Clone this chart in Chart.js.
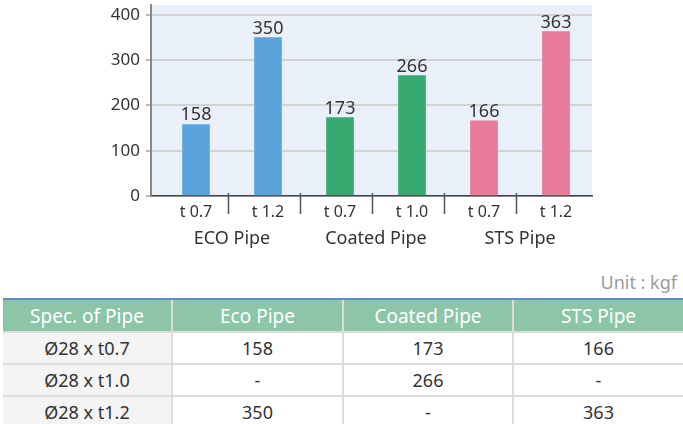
<!DOCTYPE html>
<html>
<head>
<meta charset="utf-8">
<script src="https://cdn.jsdelivr.net/npm/chart.js@4.4.1/dist/chart.umd.min.js"></script>
<style>
    body { margin: 0; background: #fff; font-family: "Noto Sans", sans-serif; }
    #wrap { position: relative; width: 683px; height: 424px; overflow: hidden; }
    #chartBox { position: absolute; left: 0; top: 0; width: 683px; height: 260px; }
    #unit { position: absolute; right: 6px; top: 270px; font-size: 18px; color: #9a9a9a; }
    table { position: absolute; left: 3px; top: 298px; width: 680px; border-collapse: collapse; table-layout: fixed; }
    th { background: #8cc5a8; color: #fff; font-weight: 400; font-size: 19px; height: 31px; border-top: 2px solid #5f8cc4; border-left: 2px solid #dcdcdc; padding: 0; }
    td { font-size: 18px; color: #333; height: 30px; text-align: center; border-top: 2px solid #dcdcdc; border-left: 2px solid #dcdcdc; padding: 0; }
    th:first-child, td:first-child { border-left: none; }
    td:first-child { background: #f4f4f4; }
</style>
</head>
<body>
<div id="wrap">
    <div id="chartBox"><canvas id="myBarChart"></canvas></div>
    <div id="unit">Unit : kgf</div>
    <table id="specTable"></table>
</div>
<script>
const barLabels = ['t 0.7', 't 1.2', 't 0.7', 't 1.0', 't 0.7', 't 1.2'];
const barValues = [158, 350, 173, 266, 166, 363];
const barColors = ['#5ba3db', '#5ba3db', '#37a971', '#37a971', '#e87b99', '#e87b99'];
const groupNames = ['ECO Pipe', 'Coated Pipe', 'STS Pipe'];
const yTicks = [0, 100, 200, 300, 400];

const tableHead = ['Spec. of Pipe', 'Eco Pipe', 'Coated Pipe', 'STS Pipe'];
const specRows = ['Ø28 x t0.7', 'Ø28 x t1.0', 'Ø28 x t1.2'];
const ecoCol = ['158', '-', '350'];
const coatedCol = ['173', '266', '-'];
const stsCol = ['166', '-', '363'];

function buildTable() {
    const table = document.getElementById('specTable');
    let html = '<colgroup><col style="width:169px"><col style="width:171px"><col style="width:170px"><col style="width:170px"></colgroup>';
    html += '<tr>' + tableHead.map(h => `<th>${h}</th>`).join('') + '</tr>';
    for (let i = 0; i < specRows.length; i++) {
        html += `<tr><td>${specRows[i]}</td><td>${ecoCol[i]}</td><td>${coatedCol[i]}</td><td>${stsCol[i]}</td></tr>`;
    }
    table.innerHTML = html;
}

const FONT = '"Noto Sans", sans-serif';

// plot background, group separators, value labels, group names
const decorPlugin = {
    id: 'decor',
    beforeDraw(chart) {
        const { ctx, chartArea } = chart;
        ctx.save();
        ctx.fillStyle = '#e9f0f9';
        ctx.fillRect(chartArea.left, chartArea.top, chartArea.right - chartArea.left, chartArea.bottom - chartArea.top);
        ctx.restore();
    },
    afterDraw(chart) {
        const { ctx, chartArea } = chart;
        const x = chart.scales.x;
        ctx.save();
        ctx.strokeStyle = '#555';
        ctx.lineWidth = 1.5;
        for (let i = 0; i < barValues.length - 1; i++) {
            const px = Math.round(x.getPixelForValue(i + 0.45)) + 0.5;
            ctx.beginPath();
            ctx.moveTo(px, chartArea.bottom - 3);
            ctx.lineTo(px, chartArea.bottom + 18);
            ctx.stroke();
        }

        const meta = chart.getDatasetMeta(0);
        ctx.fillStyle = '#333';
        ctx.font = '18px ' + FONT;
        ctx.textAlign = 'center';
        ctx.textBaseline = 'alphabetic';
        meta.data.forEach((bar, i) => {
            ctx.fillText(barValues[i], bar.x, bar.y - 4);
        });

        ctx.font = '18px ' + FONT;
        ctx.textBaseline = 'middle';
        groupNames.forEach((name, g) => {
            ctx.fillText(name, x.getPixelForValue(g * 2 + 0.5), chartArea.bottom + 43);
        });
        ctx.restore();
    }
};

function drawChart() {
    const ctx = document.getElementById('myBarChart').getContext('2d');
    window.myBarChart = new Chart(ctx, {
        type: 'bar',
        data: {
            datasets: [{
                data: barValues.map((v, i) => ({ x: i, y: v })),
                backgroundColor: barColors,
                barThickness: 27
            }]
        },
        options: {
            responsive: false,
            animation: false,
            layout: { padding: { left: 0, right: 91, top: 5, bottom: 0 } },
            plugins: { legend: { display: false }, tooltip: { enabled: false } },
            scales: {
                x: {
                    type: 'linear',
                    offset: false,
                    min: -0.625,
                    max: 5.5,
                    afterBuildTicks: s => { s.ticks = barLabels.map((l, i) => ({ value: i })); },
                    afterFit: s => { s.height = 64; },
                    grid: { display: false, drawTicks: false, offset: false },
                    border: { display: true, color: '#444', width: 1.5 },
                    ticks: {
                        padding: 7,
                        color: '#333',
                        font: { family: FONT, size: 16 },
                        callback: v => barLabels[v]
                    }
                },
                y: {
                    min: 0,
                    max: 422,
                    afterBuildTicks: s => { s.ticks = yTicks.map(v => ({ value: v })); },
                    afterFit: s => { s.width = 151; s.paddingTop = 0; s.paddingBottom = 0; },
                    grid: { color: '#d3d3d6', lineWidth: 2, tickLength: 5, tickColor: '#bbb' },
                    border: { display: true, color: '#888', width: 2 },
                    ticks: {
                        padding: 6,
                        color: '#333',
                        font: { family: FONT, size: 17 }
                    }
                }
            }
        },
        plugins: [decorPlugin]
    });
}

buildTable();
const cv = document.getElementById('myBarChart');
cv.width = 683;
cv.height = 260;
drawChart();
</script>
</body>
</html>
